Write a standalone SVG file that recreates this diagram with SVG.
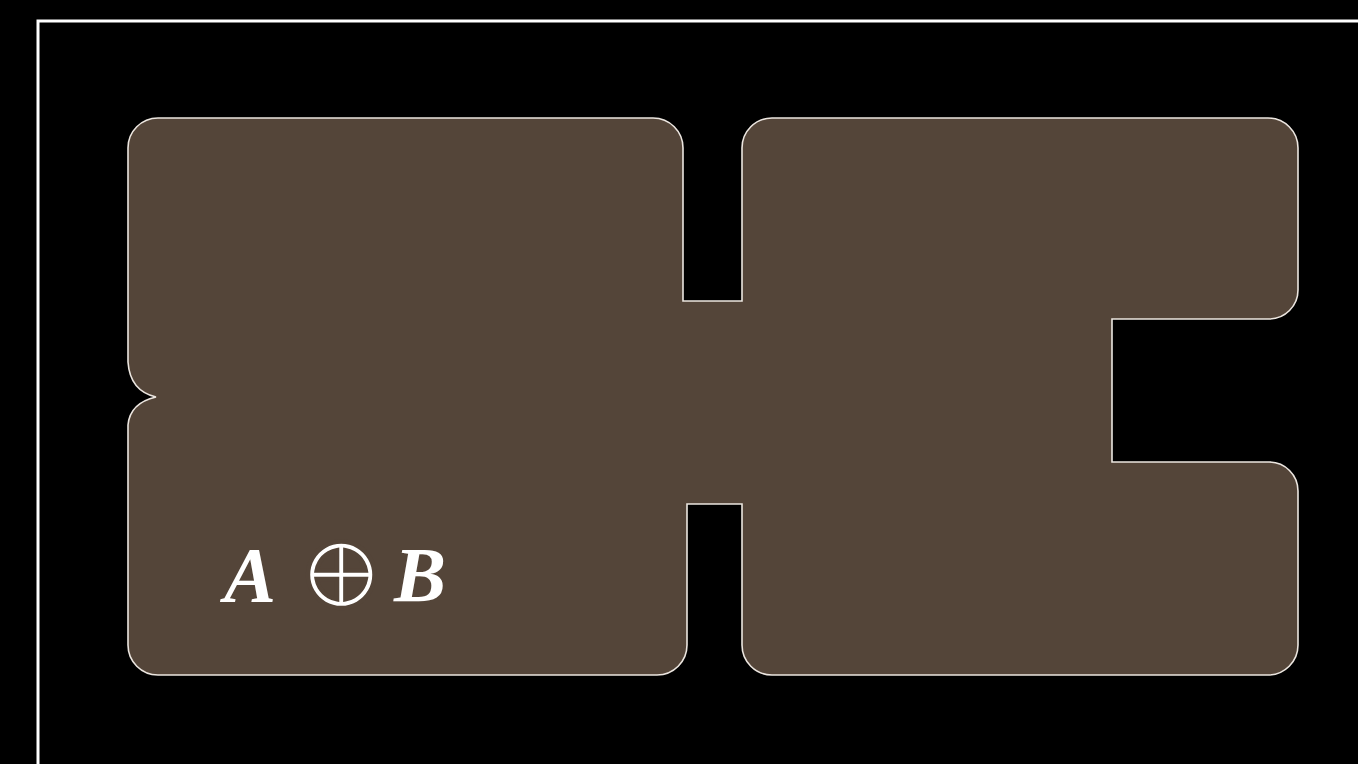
<svg xmlns="http://www.w3.org/2000/svg" width="1358" height="764" viewBox="0 0 1358 764">
<style>
.frame{fill:none;stroke:#ffffff;stroke-width:3}
.shape{fill:#544539;stroke:#ece6e0;stroke-width:1.6}
.math{fill:#ffffff}
.it{font-family:"Liberation Serif",serif;font-style:italic;font-weight:bold;font-size:78px}
.op{font-family:"DejaVu Serif",serif;font-size:106px;stroke:#544539;stroke-width:4.4}
</style>
<rect x="0" y="0" width="1358" height="764" fill="#000"/>
<rect class="frame" x="38" y="21" width="1400" height="800"/>
<g id="shape">
<path class="shape" d="M158,118 H653 A30,30 0 0 1 683,148 V301 H742 V148 A30,30 0 0 1 772,118 H1268 A30,30 0 0 1 1298,148 V290 A29,29 0 0 1 1269,319 H1112 V462 H1269 A29,29 0 0 1 1298,491 V645 A30,30 0 0 1 1268,675 H772 A30,30 0 0 1 742,645 V504 H687 V645 A30,30 0 0 1 657,675 H158 A30,30 0 0 1 128,645 V425 Q130,403 156,397 Q130,391 128,362 V148 A30,30 0 0 1 158,118 Z"/>
</g>
<g id="label">
<text class="math it" x="224" y="601">A</text>
<text class="math op" x="297" y="608">⊕</text>
<text class="math it" x="394" y="601">B</text>
</g>
</svg>
